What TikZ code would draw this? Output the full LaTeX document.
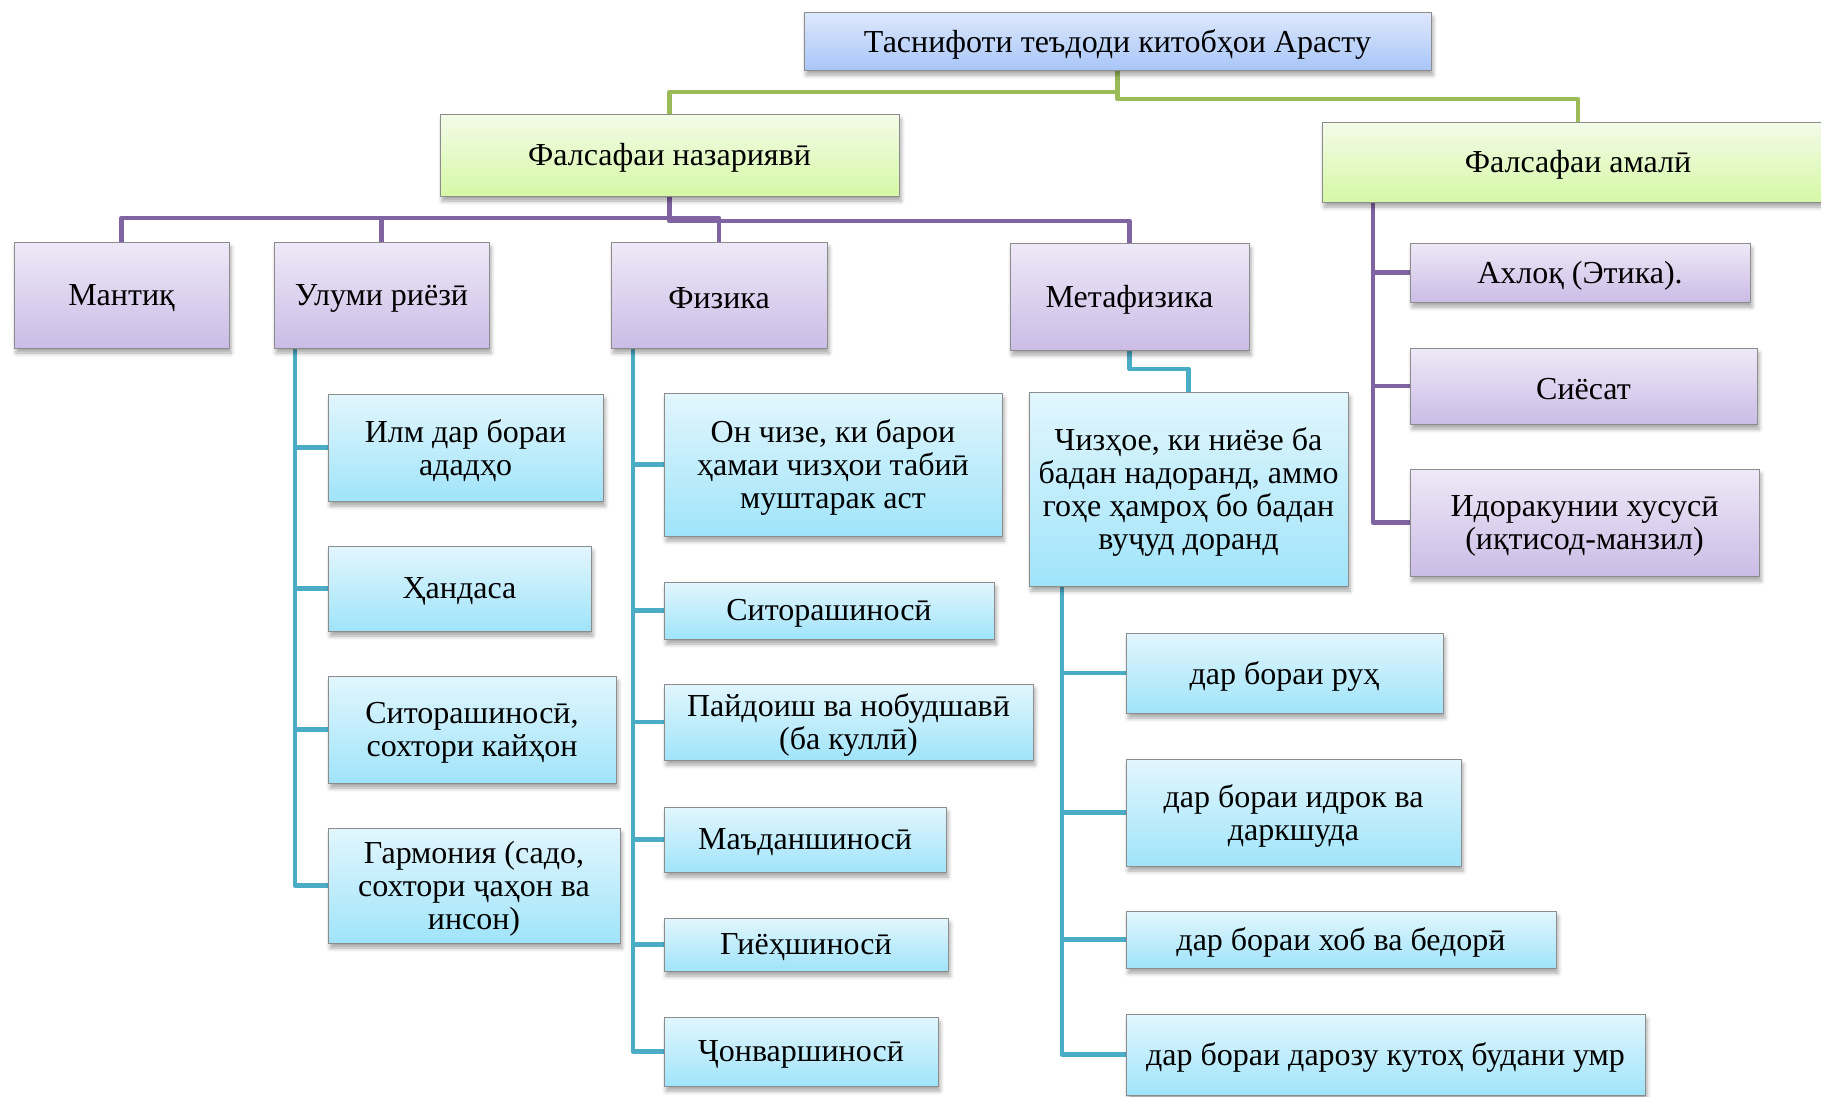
\documentclass[tikz,border=0pt]{standalone}
\usepackage{fontspec}
\setmainfont{Liberation Serif}
\usetikzlibrary{shadows.blur,backgrounds}
\definecolor{cgreen}{RGB}{155,187,89}
\definecolor{cpurple}{RGB}{128,100,162}
\definecolor{cteal}{RGB}{75,172,198}
\tikzset{
  box/.style={draw=black!45, line width=1pt, inner sep=0pt, outer sep=0pt,
    blur shadow={shadow xshift=2pt, shadow yshift=-5pt, shadow blur radius=4pt, shadow opacity=35}},
  txt/.style={font=\fontsize{32}{33}\selectfont, align=center, inner sep=0pt, yshift=-3pt},
  titlebox/.style={box, top color={rgb,255:red,222;green,232;blue,252}, bottom color={rgb,255:red,168;green,198;blue,248}},
  greenbox/.style={box, top color={rgb,255:red,243;green,251;blue,232}, bottom color={rgb,255:red,214;green,248;blue,166}},
  purplebox/.style={box, top color={rgb,255:red,238;green,233;blue,247}, bottom color={rgb,255:red,203;green,188;blue,230}},
  cyanbox/.style={box, top color={rgb,255:red,226;green,246;blue,253}, bottom color={rgb,255:red,160;green,228;blue,250}},
  gline/.style={draw=cgreen, line width=4.5pt, line join=round},
  pline/.style={draw=cpurple, line width=4.5pt, line join=round},
  tline/.style={draw=cteal, line width=4.5pt, line join=round},
}
\newcommand{\bx}[7]{\node[#6, minimum width={#4-#2}, minimum height={#5-#3}, label={[txt]center:{#7}}] (#1) at ({(#2+#4)/2},{(#3+#5)/2}) {};}
\begin{document}
\begin{tikzpicture}[x=1pt,y=-1pt]
\useasboundingbox (0,0) rectangle (1821,1096);
% top
\bx{T}{804}{12}{1431}{70}{titlebox}{Таснифоти теъдоди китобҳои Арасту}
\bx{FN}{440}{114}{899}{196}{greenbox}{Фалсафаи назариявӣ}
\bx{FA}{1322}{122}{1834}{202}{greenbox}{Фалсафаи амалӣ}
% level 2
\bx{MA}{14}{242}{229}{348}{purplebox}{Мантиқ}
\bx{UR}{274}{242}{489}{348}{purplebox}{Улуми риёзӣ}
\bx{PH}{611}{242}{827}{348}{purplebox}{Физика}
\bx{MF}{1010}{243}{1249}{350}{purplebox}{Метафизика}
\bx{A1}{1410}{243}{1750}{302}{purplebox}{Ахлоқ (Этика).}
\bx{A2}{1410}{348}{1757}{424}{purplebox}{Сиёсат}
\bx{A3}{1410}{469}{1759}{576}{purplebox}{Идоракунии хусусӣ\\(иқтисод-манзил)}
% Улуми риёзӣ
\bx{U1}{328}{394}{603}{501}{cyanbox}{Илм дар бораи\\ададҳо}
\bx{U2}{328}{546}{591}{631}{cyanbox}{Ҳандаса}
\bx{U3}{328}{676}{616}{783}{cyanbox}{Ситорашиносӣ,\\сохтори кайҳон}
\bx{U4}{328}{828}{620}{943}{cyanbox}{Гармония (садо,\\сохтори ҷаҳон ва\\инсон)}
% Физика
\bx{P1}{664}{393}{1002}{536}{cyanbox}{Он чизе, ки барои\\ҳамаи чизҳои табиӣ\\муштарак аст}
\bx{P2}{664}{582}{994}{639}{cyanbox}{Ситорашиносӣ}
\bx{P3}{664}{684}{1033}{760}{cyanbox}{Пайдоиш ва нобудшавӣ\\(ба куллӣ)}
\bx{P4}{664}{807}{946}{872}{cyanbox}{Маъданшиносӣ}
\bx{P5}{664}{918}{948}{971}{cyanbox}{Гиёҳшиносӣ}
\bx{P6}{664}{1017}{938}{1086}{cyanbox}{Ҷонваршиносӣ}
% Метафизика
\bx{CH}{1029}{392}{1348}{586}{cyanbox}{Чизҳое, ки ниёзе ба\\бадан надоранд, аммо\\гоҳе ҳамроҳ бо бадан\\вуҷуд доранд}
\bx{M1}{1126}{633}{1443}{713}{cyanbox}{дар бораи руҳ}
\bx{M2}{1126}{759}{1461}{866}{cyanbox}{дар бораи идрок ва\\даркшуда}
\bx{M3}{1126}{911}{1556}{968}{cyanbox}{дар бораи хоб ва бедорӣ}
\bx{M4}{1126}{1014}{1645}{1095}{cyanbox}{дар бораи дарозу кутоҳ будани умр}
\begin{pgfonlayer}{background}
\draw[gline] (T.south) -- ++(0,22) -| (FN.north);
\draw[gline] (T.south) -- ++(0,29) -| (FA.north);
\draw[pline] (FN.south) -- ++(0,22) -| (MA.north);
\draw[pline] (FN.south) -- ++(0,22) -| (UR.north);
\draw[pline] (FN.south) -- ++(0,22) -| (PH.north);
\draw[pline] (FN.south) -- ++(0,25) -| (MF.north);
\foreach \c in {A1,A2,A3} \draw[pline] (FA.south west) ++(51,0) |- (\c.west);
\foreach \c in {U1,U2,U3,U4} \draw[tline] (UR.south west) ++(21,0) |- (\c.west);
\foreach \c in {P1,P2,P3,P4,P5,P6} \draw[tline] (PH.south west) ++(22,0) |- (\c.west);
\draw[tline] (MF.south) -- ++(0,19) -| (CH.north);
\foreach \c in {M1,M2,M3,M4} \draw[tline] (CH.south west) ++(33,0) |- (\c.west);
\end{pgfonlayer}
\end{tikzpicture}
\end{document}
